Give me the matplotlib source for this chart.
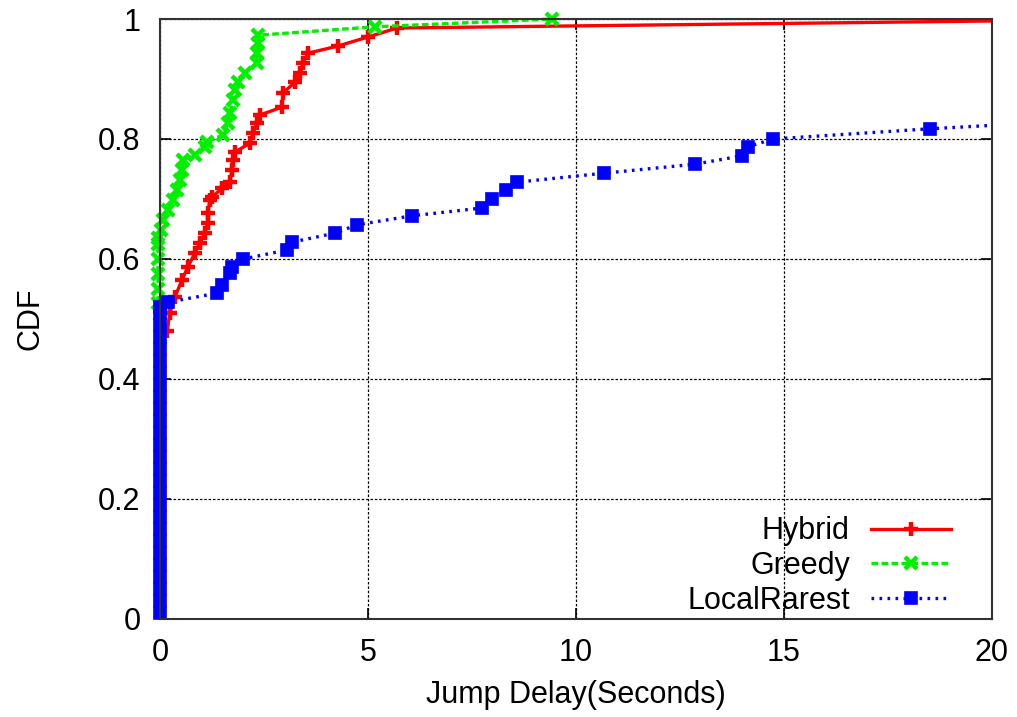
import matplotlib
matplotlib.use("Agg")
import matplotlib.pyplot as plt
from matplotlib.transforms import Bbox, TransformedBbox

plt.rcParams['font.family'] = ['Liberation Sans', 'DejaVu Sans']

# Hybrid
hybrid_x = [0.17, 0.24, 0.36, 0.53, 0.67, 0.84, 0.96, 1.08, 1.15, 1.15, 1.20, 1.25,
            1.49, 1.68, 1.73, 1.75, 1.80, 2.16, 2.24, 2.33, 2.40, 2.93, 2.96, 3.25,
            3.37, 3.44, 3.56, 4.28, 5.00, 5.70, 24.0]
hybrid_y = [0.480, 0.510, 0.537, 0.565, 0.587, 0.610, 0.627, 0.643, 0.660, 0.677, 0.698, 0.703,
            0.718, 0.728, 0.748, 0.765, 0.778, 0.793, 0.810, 0.827, 0.840, 0.853, 0.877, 0.895,
            0.910, 0.927, 0.943, 0.955, 0.970, 0.985, 1.000]

# Greedy
greedy_x = [-0.05, -0.05, -0.05, -0.05, -0.05, -0.05, 0.02, 0.07, 0.19, 0.31, 0.41, 0.48,
            0.53, 0.55, 0.84, 1.08, 1.13, 1.51, 1.63, 1.68, 1.75, 1.80, 1.88, 2.04,
            2.33, 2.33, 2.36, 2.36, 5.17, 9.42]
greedy_y = [0.527, 0.550, 0.575, 0.600, 0.625, 0.635, 0.648, 0.665, 0.682, 0.698, 0.715, 0.732,
            0.748, 0.765, 0.773, 0.787, 0.795, 0.807, 0.827, 0.843, 0.865, 0.882, 0.895, 0.910,
            0.927, 0.943, 0.960, 0.973, 0.987, 1.000]

# LocalRarest
rarest_x = [0.0, 0.0, 0.0, 0.0, 0.0, 0.0, 0.0, 0.0, 0.0, 0.0, 0.0, 0.0, 0.0, 0.0,
            0.0, 0.0, 0.0, 0.0, 0.0, 0.0, 0.0, 0.0, 0.0, 0.0, 0.0, 0.0, 0.0,
            0.19, 1.37, 1.49, 1.68, 1.73, 2.00, 3.05, 3.17, 4.20, 4.74, 6.06,
            7.74, 7.98, 8.32, 8.58, 10.67, 12.86, 13.99, 14.13, 14.74, 18.50, 24.0]
rarest_y = [0.01, 0.03, 0.05, 0.07, 0.09, 0.11, 0.13, 0.15, 0.17, 0.19, 0.21, 0.23, 0.25, 0.27,
            0.29, 0.31, 0.33, 0.35, 0.37, 0.39, 0.41, 0.43, 0.45, 0.47, 0.49, 0.51, 0.52,
            0.528, 0.543, 0.557, 0.577, 0.587, 0.600, 0.615, 0.628, 0.643, 0.657, 0.672,
            0.685, 0.700, 0.715, 0.728, 0.743, 0.758, 0.772, 0.787, 0.800, 0.817, 0.838]

fig = plt.figure(figsize=(10.17, 7.17), dpi=100)
ax = fig.add_axes([0.1573, 0.1367, 0.8181, 0.8368])

l1, = ax.plot(hybrid_x, hybrid_y, color='#ff0000', lw=2.4, ls='-', marker='+',
              ms=9.5, mew=3.2, label='Hybrid')
l2, = ax.plot(greedy_x, greedy_y, color='#00f000', lw=2.4, ls=(0, (2.0, 1.0)), marker='x',
              ms=8.5, mew=3.2, label='Greedy')
l3, = ax.plot(rarest_x, rarest_y, color='#0000ff', lw=2.4, ls=(0, (0.8, 1.6)), marker='s',
              ms=8, mew=1.2, label='LocalRarest')

# let the markers stacked on x=0 hang over the left border, like gnuplot does
clip = TransformedBbox(Bbox([[-0.02, -0.03], [1.0, 1.03]]), ax.transAxes)
for ln in (l1, l2, l3):
    ln.set_clip_box(clip)

ax.set_xlim(0, 20)
ax.set_ylim(0, 1)
ax.set_xticks([0, 5, 10, 15, 20])
ax.set_xticklabels(['0', '5', '10', '15', '20'])
ax.set_yticks([0, 0.2, 0.4, 0.6, 0.8, 1.0])
ax.set_yticklabels(['0', '0.2', '0.4', '0.6', '0.8', '1'])

ax.grid(True, color='black', ls=(0, (2, 1.5)), lw=0.9)
ax.tick_params(direction='in', length=8, width=1.2, top=True, right=True,
               labelsize=22, pad=14)
for sp in ax.spines.values():
    sp.set_linewidth(1.5)
    sp.set_color('#333333')

ax.set_xlabel('Jump Delay(Seconds)', fontsize=22, labelpad=8)
ax.set_ylabel('CDF', fontsize=22, labelpad=38)

leg = ax.legend(loc='lower right', frameon=False, markerfirst=False, fontsize=22,
                handlelength=2.6, handletextpad=0.7, labelspacing=0.15,
                borderaxespad=0.3, bbox_to_anchor=(0.976, -0.03))

fig.savefig('out.png', dpi=100)
